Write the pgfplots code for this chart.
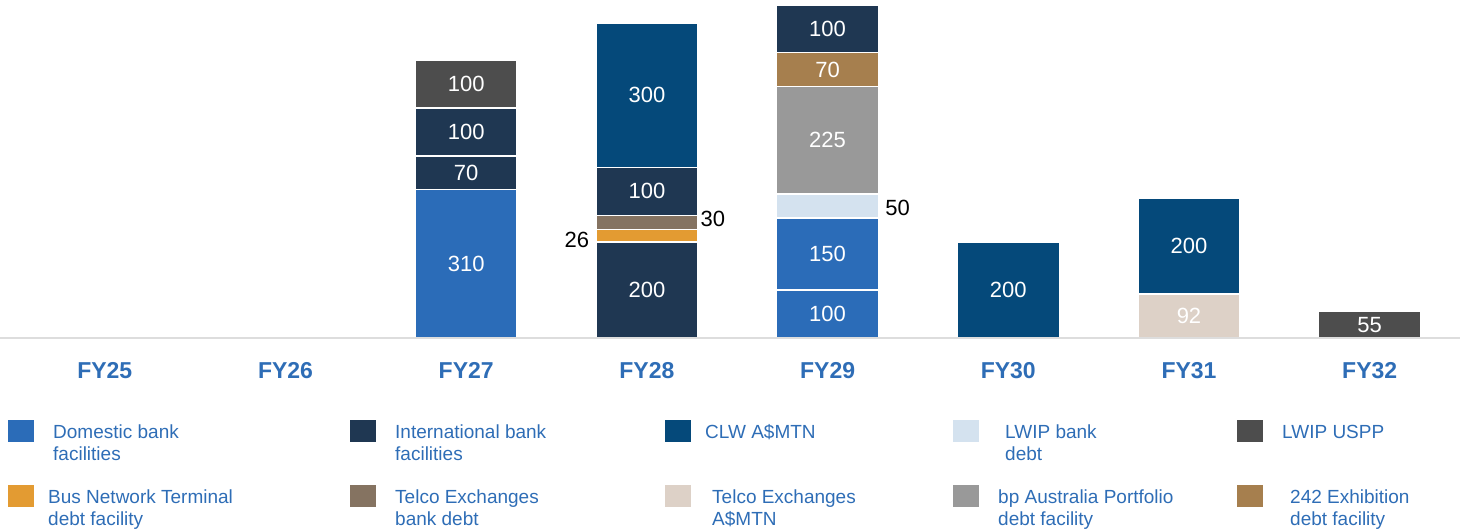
\documentclass[border=0pt]{standalone}
\usepackage{pgfplots}
\pgfplotsset{compat=1.18}
\usepackage{fontspec}
\setmainfont{Liberation Sans}
\definecolor{cDom}{HTML}{2B6CB8}
\definecolor{cInt}{HTML}{1F3752}
\definecolor{cCLW}{HTML}{05497A}
\definecolor{cLWb}{HTML}{D4E2EF}
\definecolor{cUSPP}{HTML}{4D4D4D}
\definecolor{cBus}{HTML}{E39B32}
\definecolor{cTelB}{HTML}{857361}
\definecolor{cTelA}{HTML}{DDD1C7}
\definecolor{cBP}{HTML}{999999}
\definecolor{cEx}{HTML}{A67F4E}
\definecolor{cTick}{HTML}{2E6DB6}
\definecolor{cLine}{HTML}{DDDDDD}
\newcommand{\seg}[3][]{\addplot[fill=#2, draw=white, line width=1.5pt, #1] coordinates {#3};}
\begin{document}
\begin{tikzpicture}
\path[use as bounding box] (0,0) rectangle (1466pt,530pt);
\begin{axis}[
  at={(0pt,192pt)}, anchor=south west, scale only axis,
  width=1460pt, height=338pt,
  xmin=-0.58, xmax=7.5, ymin=0, ymax=705,
  ybar stacked, bar width=0.565,
  axis y line=none, axis x line*=bottom,
  x axis line style={draw=cLine, line width=1.5pt},
  axis on top, clip=false,
  xtick={0,...,7},
  xticklabels={FY25,FY26,FY27,FY28,FY29,FY30,FY31,FY32},
  major tick length=0pt, ytick=\empty,
  xticklabel style={font=\fontsize{23}{27}\selectfont\bfseries, text=cTick, anchor=base, yshift=-41pt},
  nodes near coords, point meta=explicit symbolic,
  nodes near coords style={anchor=center, text=white, font=\fontsize{22}{26}\selectfont},
]
\seg{cDom}{(0,0)[] (1,0)[] (2,310)[310] (3,0)[] (4,100)[100] (5,0)[] (6,0)[] (7,0)[]}
\seg{cInt}{(0,0)[] (1,0)[] (2,0)[] (3,200)[200] (4,0)[] (5,0)[] (6,0)[] (7,0)[]}
\seg{cCLW}{(0,0)[] (1,0)[] (2,0)[] (3,0)[] (4,0)[] (5,200)[200] (6,0)[] (7,0)[]}
\seg{cTelA}{(0,0)[] (1,0)[] (2,0)[] (3,0)[] (4,0)[] (5,0)[] (6,92)[92] (7,0)[]}
\seg{cUSPP}{(0,0)[] (1,0)[] (2,0)[] (3,0)[] (4,0)[] (5,0)[] (6,0)[] (7,55)[55]}
\seg{cInt}{(0,0)[] (1,0)[] (2,70)[70] (3,0)[] (4,0)[] (5,0)[] (6,0)[] (7,0)[]}
\seg[nodes near coords style={anchor=east, inner sep=0pt, text=black, xshift=-57pt, yshift=-4pt}]{cBus}{(0,0)[] (1,0)[] (2,0)[] (3,26)[26] (4,0)[] (5,0)[] (6,0)[] (7,0)[]}
\seg{cDom}{(0,0)[] (1,0)[] (2,0)[] (3,0)[] (4,150)[150] (5,0)[] (6,0)[] (7,0)[]}
\seg{cCLW}{(0,0)[] (1,0)[] (2,0)[] (3,0)[] (4,0)[] (5,0)[] (6,200)[200] (7,0)[]}
\seg{cInt}{(0,0)[] (1,0)[] (2,100)[100] (3,0)[] (4,0)[] (5,0)[] (6,0)[] (7,0)[]}
\seg[nodes near coords style={anchor=west, inner sep=0pt, text=black, xshift=53pt, yshift=4pt}]{cTelB}{(0,0)[] (1,0)[] (2,0)[] (3,30)[30] (4,0)[] (5,0)[] (6,0)[] (7,0)[]}
\seg[nodes near coords style={anchor=west, inner sep=0pt, text=black, xshift=57pt, yshift=-2pt}]{cLWb}{(0,0)[] (1,0)[] (2,0)[] (3,0)[] (4,50)[50] (5,0)[] (6,0)[] (7,0)[]}
\seg{cUSPP}{(0,0)[] (1,0)[] (2,100)[100] (3,0)[] (4,0)[] (5,0)[] (6,0)[] (7,0)[]}
\seg{cInt}{(0,0)[] (1,0)[] (2,0)[] (3,100)[100] (4,0)[] (5,0)[] (6,0)[] (7,0)[]}
\seg{cBP}{(0,0)[] (1,0)[] (2,0)[] (3,0)[] (4,225)[225] (5,0)[] (6,0)[] (7,0)[]}
\seg{cCLW}{(0,0)[] (1,0)[] (2,0)[] (3,300)[300] (4,0)[] (5,0)[] (6,0)[] (7,0)[]}
\seg{cEx}{(0,0)[] (1,0)[] (2,0)[] (3,0)[] (4,70)[70] (5,0)[] (6,0)[] (7,0)[]}
\seg{cInt}{(0,0)[] (1,0)[] (2,0)[] (3,0)[] (4,100)[100] (5,0)[] (6,0)[] (7,0)[]}
\end{axis}
% legend
\begin{scope}[every node/.style={anchor=base west, inner sep=0pt, text=cTick, font=\fontsize{19}{22}\selectfont}]
\fill[cDom]  (8pt,88pt) rectangle ++(26pt,22pt);
\node at (53pt,92pt) {Domestic bank}; \node at (53pt,70pt) {facilities};
\fill[cInt]  (350pt,88pt) rectangle ++(26pt,22pt);
\node at (395pt,92pt) {International bank}; \node at (395pt,70pt) {facilities};
\fill[cCLW]  (665pt,88pt) rectangle ++(26pt,22pt);
\node at (705pt,92pt) {CLW A\$MTN};
\fill[cLWb]  (953pt,88pt) rectangle ++(26pt,22pt);
\node at (1005pt,92pt) {LWIP bank}; \node at (1005pt,70pt) {debt};
\fill[cUSPP] (1237pt,88pt) rectangle ++(26pt,22pt);
\node at (1282pt,92pt) {LWIP USPP};
\fill[cBus]  (8pt,23pt) rectangle ++(26pt,22pt);
\node at (48pt,27pt) {Bus Network Terminal}; \node at (48pt,5pt) {debt facility};
\fill[cTelB] (350pt,23pt) rectangle ++(26pt,22pt);
\node at (395pt,27pt) {Telco Exchanges}; \node at (395pt,5pt) {bank debt};
\fill[cTelA] (665pt,23pt) rectangle ++(26pt,22pt);
\node at (712pt,27pt) {Telco Exchanges}; \node at (712pt,5pt) {A\$MTN};
\fill[cBP]   (953pt,23pt) rectangle ++(26pt,22pt);
\node at (998pt,27pt) {bp Australia Portfolio}; \node at (998pt,5pt) {debt facility};
\fill[cEx]   (1237pt,23pt) rectangle ++(26pt,22pt);
\node at (1290pt,27pt) {242 Exhibition}; \node at (1290pt,5pt) {debt facility};
\end{scope}
\end{tikzpicture}
\end{document}
